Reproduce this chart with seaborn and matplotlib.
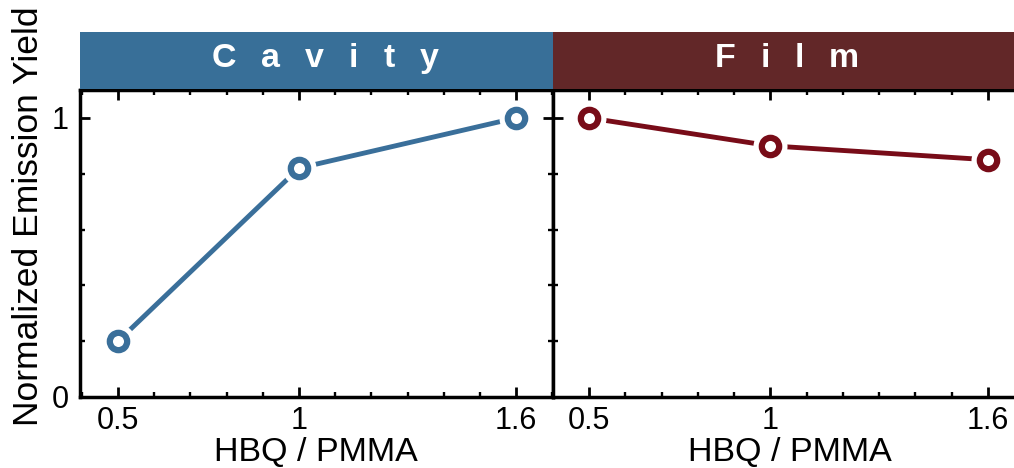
import matplotlib
matplotlib.use("Agg")
import matplotlib.pyplot as plt
from matplotlib.ticker import FixedLocator, MultipleLocator
import numpy as np
import pandas as pd
import seaborn as sns

# HBQ / PMMA ratios and normalized emission yields for each sample
ratio = [0.5, 1.0, 1.6]
cavity_yield = [0.20, 0.82, 1.00]
film_yield = [1.00, 0.90, 0.85]
panels = ["Cavity", "Film"]
x_ticks = [0.5, 1.0, 1.6]
x_tick_labels = ["0.5", "1", "1.6"]
y_ticks = [0, 1]
y_tick_labels = ["0", "1"]

df = pd.DataFrame({
    "panel": ["Cavity"] * 3 + ["Film"] * 3,
    "ratio": ratio + ratio,
    "yield": cavity_yield + film_yield,
})

line_colors = {"Cavity": "#3a6f9a", "Film": "#780c18"}
header_colors = {"Cavity": "#386f98", "Film": "#622728"}

sns.set_theme(style="ticks")
plt.rcParams["font.family"] = ["Liberation Sans", "DejaVu Sans"]

W, H = 1014, 468
fig = plt.figure(figsize=(W / 100, H / 100), dpi=100)

ax_bottom_px, ax_top_px = 397, 90
hdr_top_px = 32
boxes = {
    "Cavity": (80, 473, (0.395, 1.702)),
    "Film": (553, 461, (0.4007, 1.6717)),
}
label_centers = {"Cavity": 316, "Film": 790}
title_centers = {"Cavity": 325, "Film": 787}

spine_w = 2.5
axes = {}
for p in panels:
    left_px, width_px, xlim = boxes[p]
    ax = fig.add_axes([left_px / W, (H - ax_bottom_px) / H,
                       width_px / W, (ax_bottom_px - ax_top_px) / H])
    axes[p] = ax
    sub = df[df["panel"] == p]
    c = line_colors[p]

    sns.lineplot(data=sub, x="ratio", y="yield", color=c, linewidth=3.5,
                 solid_capstyle="round", ax=ax, legend=False, zorder=2)
    # white halo so the line stops short of each marker
    sns.scatterplot(data=sub, x="ratio", y="yield", color="white", s=600,
                    linewidth=0, ax=ax, legend=False, zorder=3)
    # open ring markers
    sns.scatterplot(data=sub, x="ratio", y="yield", color="white",
                    edgecolor=c, linewidth=4.5, s=156, ax=ax,
                    legend=False, zorder=4)

    ax.set_xlim(*xlim)
    ax.set_ylim(0, 1.1)
    ax.xaxis.set_major_locator(FixedLocator(x_ticks))
    ax.set_xticklabels(x_tick_labels)
    ax.xaxis.set_minor_locator(MultipleLocator(0.1))
    ax.yaxis.set_major_locator(FixedLocator(y_ticks))
    ax.yaxis.set_minor_locator(FixedLocator([0.2, 0.4, 0.6, 0.8]))

    for s in ax.spines.values():
        s.set_linewidth(spine_w)
        s.set_color("black")
    right_on = p == "Cavity"
    ax.spines["right"].set_visible(right_on)

    ax.tick_params(axis="both", which="major", direction="in", length=7,
                   width=2.0, color="black", labelsize=22, pad=8,
                   labelcolor="black")
    ax.tick_params(axis="x", which="major", pad=6.5)
    ax.tick_params(axis="both", which="minor", direction="in", length=3.5,
                   width=1.7, color="black")
    ax.tick_params(axis="x", which="both", top=True, bottom=True)
    ax.tick_params(axis="y", which="both", left=True, right=right_on)

    if p == "Cavity":
        ax.set_yticklabels(y_tick_labels)
        ax.set_ylabel("Normalized Emission Yield", fontsize=25.5, color="black")
        ax.yaxis.set_label_coords((45 - left_px) / width_px,
                                  (ax_bottom_px - 216) / (ax_bottom_px - ax_top_px))
    else:
        ax.set_yticklabels([])
        ax.set_ylabel("")

    ax.set_xlabel("HBQ / PMMA", fontsize=24.5, color="black")
    ax.xaxis.set_label_coords((label_centers[p] - left_px) / width_px,
                              (ax_bottom_px - 437) / (ax_bottom_px - ax_top_px))
    ax.xaxis.label.set_va("top")

# Colored facet headers with letter-spaced titles
renderer = fig.canvas.get_renderer()
hdr_bottom_px = ax_top_px - 1
for p in panels:
    left_px, width_px, _ = boxes[p]
    hdr = fig.add_axes([left_px / W, (H - hdr_bottom_px) / H,
                        width_px / W, (hdr_bottom_px - hdr_top_px) / H])
    hdr.set_facecolor(header_colors[p])
    hdr.set_xticks([])
    hdr.set_yticks([])
    for s in hdr.spines.values():
        s.set_visible(False)

    style = dict(fontsize=24.5, fontweight="bold", color="white")
    widths = []
    for ch in p:
        t = fig.text(0, 0, ch, **style)
        widths.append(t.get_window_extent(renderer).width)
        t.remove()
    gap = 25
    total = sum(widths) + gap * (len(p) - 1)
    x = title_centers[p] - total / 2
    base_y = (hdr_bottom_px - 67) / (hdr_bottom_px - hdr_top_px)
    for ch, w in zip(p, widths):
        hdr.text((x - left_px) / width_px, base_y, ch, ha="left",
                 va="baseline", transform=hdr.transAxes, **style)
        x += w + gap

fig.savefig("out.png", dpi=100)
